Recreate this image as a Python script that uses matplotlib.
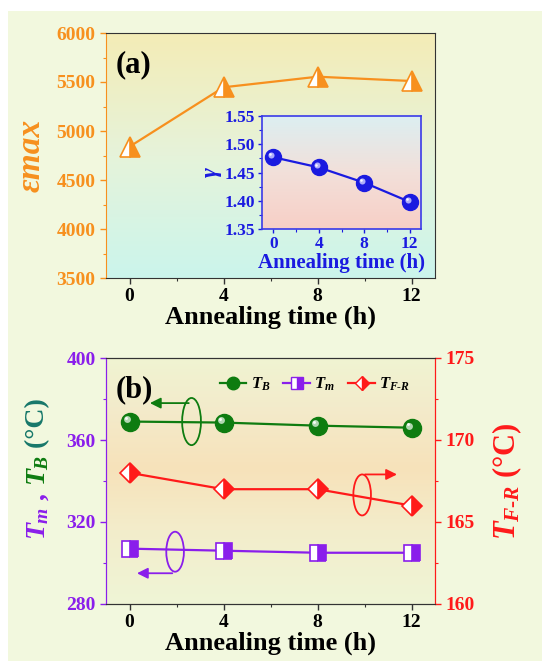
import numpy as np
import matplotlib
matplotlib.use("Agg")
import matplotlib.pyplot as plt
from matplotlib.patches import Ellipse, Rectangle
from matplotlib.ticker import MultipleLocator
from matplotlib.colors import LinearSegmentedColormap
import matplotlib.transforms as mtransforms

plt.rcParams['font.family'] = ['Liberation Serif', 'DejaVu Serif']
plt.rcParams['font.weight'] = 'bold'
plt.rcParams['axes.labelweight'] = 'bold'
plt.rcParams['mathtext.fontset'] = 'custom'
plt.rcParams['mathtext.it'] = 'Liberation Serif:bold:italic'
plt.rcParams['mathtext.rm'] = 'Liberation Serif:bold'
plt.rcParams['mathtext.bf'] = 'Liberation Serif:bold'

# data
time_h = [0, 4, 8, 12]
eps_max = [4840, 5446, 5554, 5510]
gamma = [1.477, 1.459, 1.432, 1.398]
T_B = [369, 368.5, 367, 366]
T_m = [307, 306, 305, 305]
T_FR = [168, 167, 167, 166]

orange = '#F7901E'
blue = '#1A1AE0'
green = '#0E7C10'
purple = '#8A1EEB'
red = '#FF1A1A'
teal = '#17786A'
spine_gray = '#333333'

fig = plt.figure(figsize=(5.42, 6.61), dpi=100)
fig.patch.set_facecolor('white')
fig.patches.append(Rectangle((8 / 542, 0), 1, 1 - 11 / 661, transform=fig.transFigure,
                             facecolor='#F2F8DE', edgecolor='none', zorder=-10))


def gradient(ax, colors, stops=None):
    if stops is None:
        cmap = LinearSegmentedColormap.from_list('g', colors)
    else:
        cmap = LinearSegmentedColormap.from_list('g', list(zip(stops, colors)))
    g = np.linspace(0, 1, 256).reshape(-1, 1)
    ax.imshow(g, aspect='auto', cmap=cmap, extent=[0, 1, 0, 1], transform=ax.transAxes,
              origin='lower', zorder=-5)


def sphere(ax, x, y, color, hl, ms, **kw):
    ax.plot(x, y, 'o', color=color, ms=ms, mec=color, zorder=4, **kw)
    tr = mtransforms.offset_copy(ax.transData, fig=fig, x=-ms * 0.12, y=ms * 0.12, units='points')
    ax.plot(x, y, 'o', color=hl, ms=ms * 0.38, mew=0, alpha=0.85, transform=tr, zorder=5)
    tr2 = mtransforms.offset_copy(ax.transData, fig=fig, x=-ms * 0.18, y=ms * 0.18, units='points')
    ax.plot(x, y, 'o', color='white', ms=ms * 0.16, mew=0, alpha=0.9, transform=tr2, zorder=6)


def style_ticks(ax):
    ax.tick_params(which='both', direction='out')
    ax.tick_params(which='major', length=4, width=1)
    ax.tick_params(which='minor', length=2.5, width=0.8)


# ---------- panel (a) ----------
ax1 = fig.add_axes([106 / 542, 1 - 278 / 661, 329 / 542, 245 / 661])
gradient(ax1, ['#CBF5EC', '#E6F3DA', '#F4ECB6'])
ax1.plot(time_h, eps_max, '-', color=orange, lw=1.6, marker='^', ms=15,
         fillstyle='right', mfc=orange, mfcalt='white', mec=orange, mew=1.2, zorder=3)
ax1.set_xlim(-1, 13)
ax1.set_ylim(3500, 6000)
ax1.set_xticks(time_h)
ax1.xaxis.set_minor_locator(MultipleLocator(2))
ax1.yaxis.set_major_locator(MultipleLocator(500))
ax1.yaxis.set_minor_locator(MultipleLocator(250))
style_ticks(ax1)
ax1.tick_params(axis='y', which='both', colors=orange, labelsize=14)
ax1.tick_params(axis='x', which='both', colors=spine_gray, labelcolor='black', labelsize=14)
for s in ['top', 'right', 'bottom']:
    ax1.spines[s].set_color(spine_gray)
ax1.spines['left'].set_color(orange)
ax1.set_xlabel('Annealing time (h)', fontsize=19, labelpad=0)
ax1.set_ylabel('εmax', fontsize=24, color=orange, style='italic', weight='bold')
ax1.yaxis.set_label_coords(-0.18, 0.5)
ax1.text(0.03, 0.93, '(a)', transform=ax1.transAxes, fontsize=22, va='top', ha='left')

# inset
axi = fig.add_axes([262 / 542, 1 - 229 / 661, 159 / 542, 113 / 661])
gradient(axi, ['#F8CFC6', '#F2E0DA', '#DCEFF2'])
axi.plot(time_h, gamma, '-', color=blue, lw=1.6, zorder=3)
sphere(axi, time_h, gamma, blue, '#C8C8FF', 11.5)
axi.set_xlim(-1, 13)
axi.set_ylim(1.35, 1.55)
axi.set_xticks(time_h)
axi.xaxis.set_minor_locator(MultipleLocator(2))
axi.yaxis.set_major_locator(MultipleLocator(0.05))
axi.yaxis.set_minor_locator(MultipleLocator(0.025))
axi.yaxis.set_major_formatter(matplotlib.ticker.FormatStrFormatter('%.2f'))
style_ticks(axi)
axi.tick_params(which='major', length=3)
axi.tick_params(which='minor', length=2)
axi.tick_params(which='both', colors=blue, labelsize=12.5, pad=2)
for s in axi.spines.values():
    s.set_color('#3A3AE8')
    s.set_linewidth(1.2)
axi.set_xlabel('Annealing time (h)', fontsize=15, color=blue, labelpad=1)
axi.set_ylabel('γ', fontsize=17, color=blue, style='italic', labelpad=2)

# ---------- panel (b) ----------
ax2 = fig.add_axes([106 / 542, 1 - 604 / 661, 329 / 542, 246 / 661])
gradient(ax2, ['#EFF5D6', '#F3EDCB', '#F7E2BA', '#F3EBCB', '#F0F4D2'],
         stops=[0, 0.3, 0.55, 0.8, 1])
ax3 = ax2.twinx()

ln_b, = ax2.plot(time_h, T_B, '-', color=green, lw=1.6, zorder=3)
sphere(ax2, time_h, T_B, green, '#CFE8CF', 13)
ln_m, = ax2.plot(time_h, T_m, '-', color=purple, lw=1.6, marker='s', ms=11,
                 fillstyle='right', mfc=purple, mfcalt='white', mec=purple, mew=1.2, zorder=3)
ln_fr, = ax3.plot(time_h, T_FR, '-', color=red, lw=1.6, marker='D', ms=10,
                  fillstyle='right', mfc=red, mfcalt='white', mec=red, mew=1.2, zorder=3)

ax2.set_xlim(-1, 13)
ax2.set_ylim(280, 400)
ax3.set_ylim(160, 175)
ax2.set_xticks(time_h)
ax2.xaxis.set_minor_locator(MultipleLocator(2))
ax2.yaxis.set_major_locator(MultipleLocator(40))
ax2.yaxis.set_minor_locator(MultipleLocator(20))
ax3.yaxis.set_major_locator(MultipleLocator(5))
ax3.yaxis.set_minor_locator(MultipleLocator(2.5))
style_ticks(ax2)
style_ticks(ax3)
ax2.tick_params(axis='y', which='both', colors=purple, labelsize=14)
ax3.tick_params(axis='y', which='both', colors=red, labelsize=14)
ax2.tick_params(axis='x', which='both', colors=spine_gray, labelcolor='black', labelsize=14)
for a in (ax2, ax3):
    a.spines['top'].set_color(spine_gray)
    a.spines['bottom'].set_color(spine_gray)
    a.spines['left'].set_color(purple)
    a.spines['right'].set_color(red)
ax2.set_xlabel('Annealing time (h)', fontsize=19, labelpad=0)
ax3.set_ylabel(r'$T_{F\text{-}R}$ (°C)', fontsize=22, color=red, labelpad=11)
ax2.text(0.03, 0.93, '(b)', transform=ax2.transAxes, fontsize=22, va='top', ha='left')

# legend
h_b = plt.Line2D([], [], color=green, lw=1.6, marker='o', ms=9, mfc=green, mec=green)
h_m = plt.Line2D([], [], color=purple, lw=1.6, marker='s', ms=8, fillstyle='right',
                 mfc=purple, mfcalt='white', mec=purple)
h_fr = plt.Line2D([], [], color=red, lw=1.6, marker='D', ms=7, fillstyle='right',
                  mfc=red, mfcalt='white', mec=red)
ax3.legend([h_b, h_m, h_fr], [r'$T_B$', r'$T_m$', r'$T_{F\text{-}R}$'], ncol=3,
           loc='upper right', bbox_to_anchor=(0.97, 0.99), frameon=False, fontsize=12,
           handlelength=1.6, handletextpad=0.25, columnspacing=0.8)

# ellipses and arrows pointing at the axes
ell_b = (2.64, 369, 0.8, 23)
ell_m = (1.94, 305.5, 0.75, 19.5)
ell_fr = (9.9, 166.65, 0.75, 2.5)
arrow_kw = dict(arrowstyle='-|>', lw=1.3, mutation_scale=16)
ax2.add_patch(Ellipse(ell_b[:2], ell_b[2], ell_b[3], fill=False, ec=green, lw=1.3, zorder=4))
ax2.annotate('', xy=(0.75, 378), xytext=(2.64, 378), arrowprops=dict(color=green, **arrow_kw))
ax2.add_patch(Ellipse(ell_m[:2], ell_m[2], ell_m[3], fill=False, ec=purple, lw=1.3, zorder=4))
ax2.annotate('', xy=(0.2, 295), xytext=(1.94, 295), arrowprops=dict(color=purple, **arrow_kw))
ax3.add_patch(Ellipse(ell_fr[:2], ell_fr[2], ell_fr[3], fill=False, ec=red, lw=1.3, zorder=4))
ax3.annotate('', xy=(11.5, 167.9), xytext=(9.9, 167.9), arrowprops=dict(color=red, **arrow_kw))

# multi-coloured left label for panel (b)
fig.canvas.draw()
renderer = fig.canvas.get_renderer()
parts = [(r'$T_m$', purple), (' , ', purple), (r'$T_B$', green), (' (°C)', teal)]
x_lab = 38 / 542
y_pos = 1 - 540 / 661
for txt, col in parts:
    t = fig.text(x_lab, y_pos, txt, rotation=90, ha='center', va='bottom',
                 fontsize=20, color=col)
    bb = t.get_window_extent(renderer).transformed(fig.transFigure.inverted())
    y_pos = bb.y1

fig.savefig('out.png', dpi=100)
